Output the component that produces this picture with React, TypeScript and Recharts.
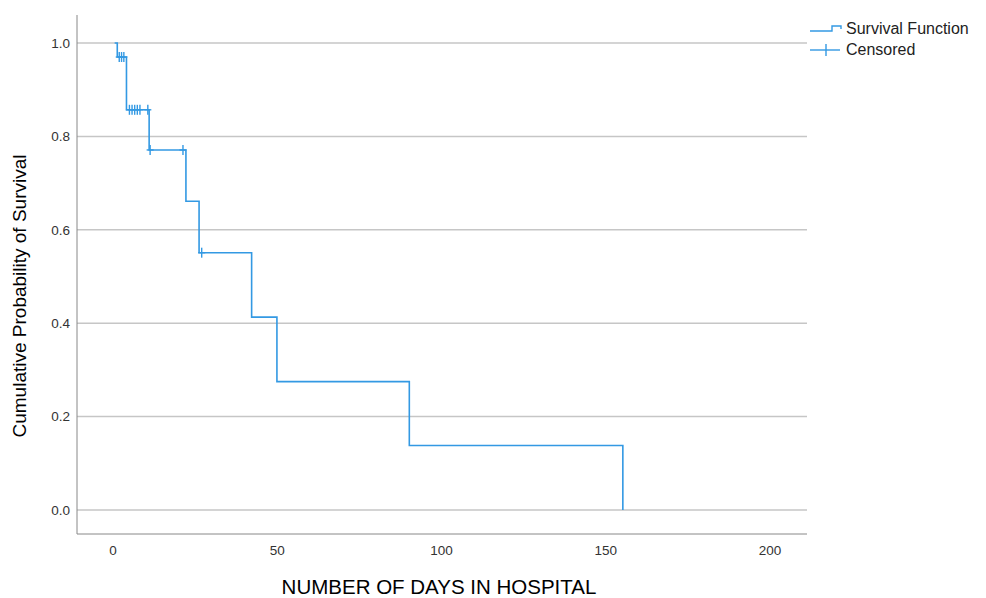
import React from "react";
import { ComposedChart, Line, Scatter, XAxis, YAxis, ReferenceLine } from "recharts";

// Survival function: time (days) at which the level starts, and the survival level
const stepTimes = [0.5, 1.3, 4.1, 11.0, 22.2, 26.2, 42.2, 49.9, 90.2, 155.2];
const stepSurvival = [1.0, 0.97, 0.857, 0.771, 0.661, 0.551, 0.413, 0.275, 0.138, 0.0];

// Censored observations
const censorTimes = [1.9, 2.6, 3.3, 5.0, 5.8, 6.6, 7.4, 8.2, 10.6, 11.3, 21.3, 27.0];
const censorSurvival = [0.97, 0.97, 0.97, 0.857, 0.857, 0.857, 0.857, 0.857, 0.857, 0.771, 0.771, 0.551];

const xTicks = [0, 50, 100, 150, 200];
const yTicks = [0, 0.2, 0.4, 0.6, 0.8, 1.0];

const BLUE = "#3399e3";

const stepData = stepTimes.map((t, i) => ({ t, s: stepSurvival[i] }));
const censorData = censorTimes.map((t, i) => ({ t, s: censorSurvival[i] }));

const PlusShape = (props: any) => {
  const { cx, cy } = props;
  if (cx == null || cy == null) return null;
  return (
    <g>
      <line x1={cx} y1={cy - 5} x2={cx} y2={cy + 5} stroke={BLUE} strokeWidth={1.4} />
      <line x1={cx - 3.5} y1={cy} x2={cx + 3.5} y2={cy} stroke={BLUE} strokeWidth={1.4} />
    </g>
  );
};

const FONT = "'Liberation Sans', Arial, sans-serif";

export default function App() {
  return (
    <div style={{ position: "relative", width: 970, height: 590, fontFamily: FONT }}>
      <ComposedChart
        width={970}
        height={590}
        margin={{ top: 7, left: 9, right: 171, bottom: 34 }}
      >
        {yTicks.map((v) => (
          <ReferenceLine key={v} y={v} stroke="#c6c6c6" strokeWidth={1.5} ifOverflow="extendDomain" />
        ))}
        <XAxis
          type="number"
          dataKey="t"
          domain={[-10.96, 211.26]}
          allowDataOverflow
          ticks={xTicks}
          height={30}
          tickLine={false}
          tickSize={0}
          tickMargin={11}
          stroke="#888"
          tick={{ fill: "#333", fontSize: 13.5, fontFamily: FONT }}
        />
        <YAxis
          type="number"
          dataKey="s"
          domain={[-0.0514, 1.06]}
          allowDataOverflow
          ticks={yTicks}
          width={60}
          tickLine={false}
          tickSize={0}
          tickMargin={7}
          stroke="#888"
          tickFormatter={(v: number) => v.toFixed(1)}
          tick={{ fill: "#333", fontSize: 13.5, fontFamily: FONT }}
        />
        <Line
          data={stepData}
          dataKey="s"
          type="stepAfter"
          stroke={BLUE}
          strokeWidth={1.6}
          dot={false}
          activeDot={false}
          isAnimationActive={false}
        />
        <Scatter
          data={censorData}
          dataKey="s"
          shape={PlusShape}
          isAnimationActive={false}
        />
      </ComposedChart>
      <svg
        width={970}
        height={590}
        style={{ position: "absolute", left: 0, top: 0, pointerEvents: "none" }}
      >
        <text
          x={18}
          y={288}
          transform="rotate(-90 18 288)"
          textAnchor="middle"
          fontSize={19}
          fill="#000"
          fontFamily={FONT}
        >
          Cumulative Probability of Survival
        </text>
        <text x={431} y={586} textAnchor="middle" fontSize={20.5} fill="#000" fontFamily={FONT}>
          NUMBER OF DAYS IN HOSPITAL
        </text>
        <g transform="translate(792,8)">
          <path d="M10,15 H32 V10 H41 V13" fill="none" stroke={BLUE} strokeWidth={1.4} />
          <text x={46} y={18} fontSize={16} fill="#222" fontFamily={FONT}>
            Survival Function
          </text>
          <line x1={10} y1={34} x2={40} y2={34} stroke={BLUE} strokeWidth={1.4} />
          <line x1={26} y1={28} x2={26} y2={40} stroke={BLUE} strokeWidth={1.4} />
          <text x={46} y={39} fontSize={16} fill="#222" fontFamily={FONT}>
            Censored
          </text>
        </g>
      </svg>
    </div>
  );
}
